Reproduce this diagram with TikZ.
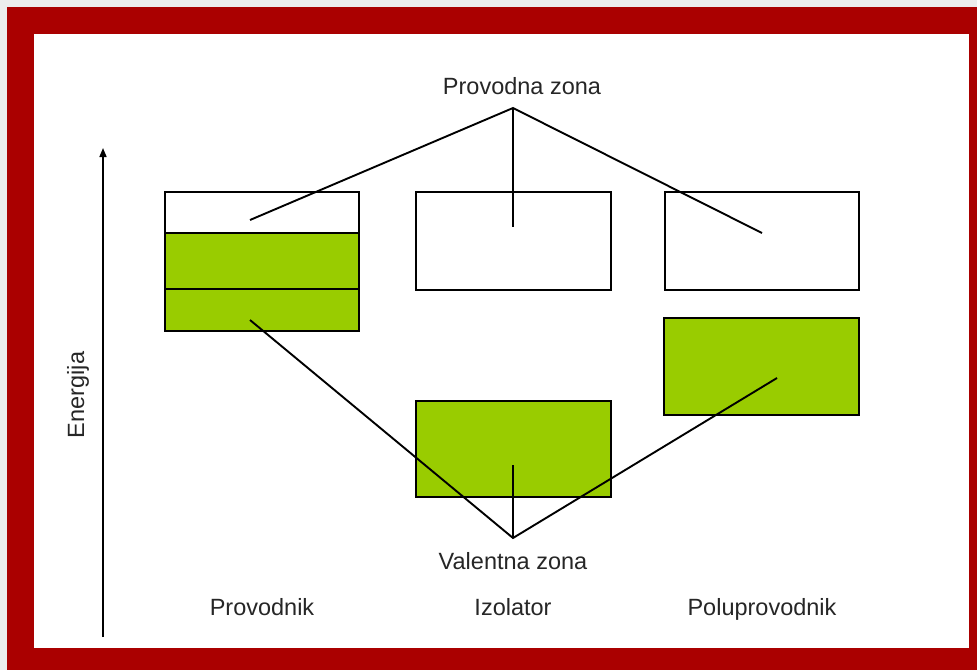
\documentclass[tikz,border=0pt]{standalone}
\usepackage{fontspec}
\setmainfont{Liberation Sans}
\usetikzlibrary{arrows.meta}
\definecolor{framered}{RGB}{170,0,0}
\definecolor{bandgreen}{RGB}{153,204,0}
\definecolor{outbg}{RGB}{236,236,236}
\begin{document}
\begin{tikzpicture}[x=1pt,y=-1pt,
  band/.style={draw=black, line width=1.9pt, anchor=north west, inner sep=0pt, outer sep=0pt},
  empty/.style={band, fill=white},
  full/.style={band, fill=bandgreen},
  lbl/.style={font=\fontsize{23.5}{26}\selectfont, text=black!85, inner sep=0pt, anchor=base},
  conn/.style={draw=black, line width=1.9pt}]
% background and frame
\fill[outbg] (0,0) rectangle (977,670);
\fill[framered] (7,7) rectangle (977,670);
\fill[white] (34,34) rectangle (969,648);
\useasboundingbox (0,0) rectangle (977,670);
% Provodnik
\node[empty, minimum width=194pt, minimum height=41pt] (provW) at (165,192) {};
\node[full, minimum width=194pt, minimum height=56pt] (provG1) at (165,233) {};
\node[full, minimum width=194pt, minimum height=42pt] (provG2) at (165,289) {};
% Izolator
\node[empty, minimum width=195pt, minimum height=98pt] (izoW) at (416,192) {};
\node[full, minimum width=195pt, minimum height=96pt] (izoG) at (416,401) {};
% Poluprovodnik
\node[empty, minimum width=194pt, minimum height=98pt] (polW) at (665,192) {};
\node[full, minimum width=195pt, minimum height=97pt] (polG) at (664,318) {};
% labels
\node[lbl] (provodna) at (522,94) {Provodna zona};
\node[lbl] (valentna) at (513,569) {Valentna zona};
\node[lbl] (provodnik) at (262,615) {Provodnik};
\node[lbl] (izolator) at (513,615) {Izolator};
\node[lbl] (polupro) at (762,615) {Poluprovodnik};
\node[lbl, rotate=90] (energija) at (84,395) {Energija};
% connector points
\coordinate (topA) at (513,108);
\coordinate (t1) at (250,220);
\coordinate (t2) at (513,227);
\coordinate (t3) at (762,233);
\coordinate (botA) at (513,538);
\coordinate (b1) at (250,320);
\coordinate (b2) at (513,465);
\coordinate (b3) at (777,378);
\draw[conn] (t1) -- (topA) -- (t3);
\draw[conn] (topA) -- (t2);
\draw[conn] (b1) -- (botA) -- (b3);
\draw[conn] (botA) -- (b2);
% energy axis
\coordinate (eBot) at (103,637);
\coordinate (eTop) at (103,148);
\draw[line width=1.6pt, -{Triangle[length=9pt,width=7pt]}] (eBot) -- (eTop);
\end{tikzpicture}
\end{document}
